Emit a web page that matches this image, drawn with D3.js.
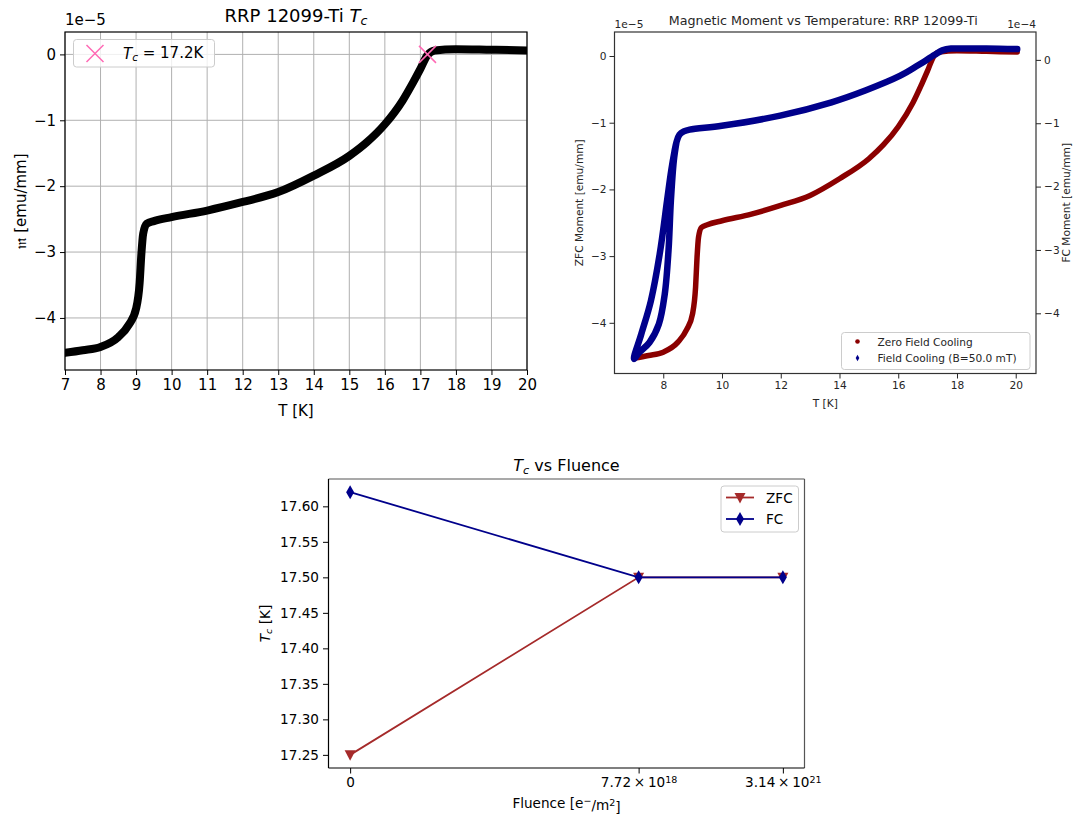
<!DOCTYPE html>
<html>
<head>
<meta charset="utf-8">
<script src="https://d3js.org/d3.v7.min.js"></script>
<style>
body { margin: 0; background: #fff; }
text { font-family: "DejaVu Sans", sans-serif; }
</style>
</head>
<body>
<div id="chart"></div>
<script>
var svgWidth = 1077;
var svgHeight = 818;

// ZFC sweep, moment in units of 1e-5 emu/mm
var zfcTemp = [7.0, 7.5, 8.0, 8.5, 8.8, 9.0, 9.1, 9.15, 9.2, 9.3, 9.5, 10.0, 11.0, 12.0, 13.0, 14.0, 15.0, 15.5, 16.0, 16.5, 16.8, 17.0, 17.2, 17.4, 18.0, 19.0, 20.05];
var zfcMoment = [-4.53, -4.49, -4.44, -4.29, -4.1, -3.86, -3.47, -3.02, -2.72, -2.57, -2.53, -2.47, -2.37, -2.24, -2.09, -1.84, -1.54, -1.33, -1.06, -0.70, -0.42, -0.22, -0.01, 0.06, 0.08, 0.07, 0.06];

// FC sweep, moment in units of 1e-4 emu/mm (plateau, then the two low-T branches)
var fcTemp = [20.05, 19.0, 18.0, 17.8, 17.5, 17.24, 16.66, 16.07, 14.9, 13.73, 11.98, 9.99, 8.9, 8.7, 8.55, 8.45, 8.38, 8.27, 8.13, 7.88, 7.58, 7.25, 7.0, 7.18, 7.53, 7.85, 8.05, 8.18, 8.26, 8.36, 8.45];
var fcMoment = [0.17, 0.18, 0.18, 0.18, 0.15, 0.08, -0.09, -0.25, -0.48, -0.67, -0.88, -1.04, -1.1, -1.13, -1.18, -1.3, -1.45, -1.75, -2.22, -3.06, -3.8, -4.33, -4.72, -4.62, -4.46, -4.17, -3.7, -3.0, -2.22, -1.59, -1.3];

var tcPoint = [17.2, 0];

// Tc vs fluence
var fluencePos = [0, 2, 3];
var fluenceMantissa = ["0", "7.72", "3.14"];
var fluenceExponent = ["", "18", "21"];
var tcZfc = [17.25, 17.50, 17.50];
var tcFc = [17.62, 17.50, 17.50];

var svg = d3.select("#chart")
  .append("svg")
  .attr("width", svgWidth)
  .attr("height", svgHeight);

// helper: "T_c" style text, italic T with subscript c
function addTc(sel, after) {
  sel.append("tspan").attr("font-style", "italic").text("T");
  sel.append("tspan").attr("font-style", "italic").attr("font-size", "0.7em").attr("dy", "0.25em").text("c");
  if (after) sel.append("tspan").attr("dy", "-0.18em").text(after);
}

function styleAxis(axisG, size, color) {
  axisG.select(".domain").remove();
  axisG.selectAll("text")
    .attr("font-size", size)
    .attr("font-family", "DejaVu Sans")
    .attr("fill", color);
  axisG.selectAll("line").attr("stroke", color).attr("stroke-width", 1);
}

// ---------- Panel 1: RRP 12099-Ti Tc ----------
var p1 = {left: 65, top: 32, width: 462, height: 338};
var g1 = svg.append("g").attr("transform", `translate(${p1.left}, ${p1.top})`);

var x1 = d3.scaleLinear().domain([7, 20]).range([0, p1.width]);
var y1 = d3.scaleLinear().domain([-4.79, 0.34]).range([p1.height, 0]);

var xTicks1 = d3.range(7, 21);
var yTicks1 = [0, -1, -2, -3, -4];

g1.append("g").selectAll("line")
  .data(xTicks1)
  .enter()
  .append("line")
  .attr("x1", d => x1(d)).attr("x2", d => x1(d))
  .attr("y1", 0).attr("y2", p1.height)
  .attr("stroke", "#b0b0b0").attr("stroke-width", 1);

g1.append("g").selectAll("line")
  .data(yTicks1)
  .enter()
  .append("line")
  .attr("y1", d => y1(d)).attr("y2", d => y1(d))
  .attr("x1", 0).attr("x2", p1.width)
  .attr("stroke", "#b0b0b0").attr("stroke-width", 1);

svg.append("clipPath").attr("id", "clip1")
  .append("rect").attr("width", p1.width).attr("height", p1.height);

var zfcData = zfcTemp.map((t, i) => [t, zfcMoment[i]]);

var line1 = d3.line()
  .x(d => x1(d[0]))
  .y(d => y1(d[1]))
  .curve(d3.curveMonotoneX);

g1.append("path")
  .datum(zfcData)
  .attr("clip-path", "url(#clip1)")
  .attr("d", line1)
  .attr("fill", "none")
  .attr("stroke", "black")
  .attr("stroke-width", 8)
  .attr("stroke-linejoin", "round")
  .attr("stroke-linecap", "round");

var xMark = "M-8.5,-8.5L8.5,8.5M-8.5,8.5L8.5,-8.5";
g1.append("path")
  .attr("d", xMark)
  .attr("transform", `translate(${x1(tcPoint[0])}, ${y1(tcPoint[1])})`)
  .attr("stroke", "#ff69b4").attr("stroke-width", 1.5).attr("fill", "none");

g1.append("rect")
  .attr("width", p1.width).attr("height", p1.height)
  .attr("fill", "none").attr("stroke", "black").attr("stroke-width", 1.2);

var xAxis1 = g1.append("g")
  .attr("transform", `translate(0, ${p1.height})`)
  .call(d3.axisBottom(x1).tickValues(xTicks1).tickSize(5).tickPadding(4));
styleAxis(xAxis1, 15, "black");

var yAxis1 = g1.append("g")
  .call(d3.axisLeft(y1).tickValues(yTicks1).tickFormat(d3.format("d")).tickSize(5).tickPadding(4));
styleAxis(yAxis1, 15, "black");

svg.append("text").attr("x", p1.left).attr("y", 25).attr("font-size", 15).text("1e\u22125");

var title1 = svg.append("text")
  .attr("x", p1.left + p1.width / 2).attr("y", 22)
  .attr("text-anchor", "middle").attr("font-size", 18);
title1.append("tspan").text("RRP 12099-Ti ");
addTc(title1);

svg.append("text")
  .attr("x", p1.left + p1.width / 2).attr("y", 416)
  .attr("text-anchor", "middle").attr("font-size", 15)
  .text("T [K]");

svg.append("text")
  .attr("transform", `translate(26, ${p1.top + p1.height / 2}) rotate(-90)`)
  .attr("text-anchor", "middle").attr("font-size", 15)
  .text("\ud835\udd2a [emu/mm]");

// legend
var leg1 = svg.append("g");
leg1.append("rect")
  .attr("x", 73.5).attr("y", 39.5).attr("width", 141).attr("height", 27.5).attr("rx", 3)
  .attr("fill", "white").attr("fill-opacity", 0.8).attr("stroke", "#cccccc");
leg1.append("path").attr("d", xMark)
  .attr("transform", "translate(95, 53.5)")
  .attr("stroke", "#ff69b4").attr("stroke-width", 1.5).attr("fill", "none");
var legText1 = leg1.append("text").attr("x", 123).attr("y", 58.5).attr("font-size", 15);
addTc(legText1, " = 17.2K");

// ---------- Panel 2: ZFC / FC moment ----------
var p2 = {left: 614.5, top: 32, width: 421.5, height: 341.5};
var g2 = svg.append("g").attr("transform", `translate(${p2.left}, ${p2.top})`);

var x2 = d3.scaleLinear().domain([6.34, 20.69]).range([0, p2.width]);
var y2z = d3.scaleLinear().domain([-4.76, 0.36]).range([p2.height, 0]);
var y2f = d3.scaleLinear().domain([-4.95, 0.44]).range([p2.height, 0]);

var fcData = fcTemp.map((t, i) => [t, fcMoment[i]]);

g2.append("path")
  .datum(zfcData)
  .attr("d", d3.line().x(d => x2(d[0])).y(d => y2z(d[1])).curve(d3.curveMonotoneX))
  .attr("fill", "none")
  .attr("stroke", "#8b0000")
  .attr("stroke-width", 5.5)
  .attr("stroke-linejoin", "round")
  .attr("stroke-linecap", "round");

g2.append("path")
  .datum(fcData)
  .attr("d", d3.line().x(d => x2(d[0])).y(d => y2f(d[1])).curve(d3.curveCatmullRom))
  .attr("fill", "none")
  .attr("stroke", "#00008b")
  .attr("stroke-width", 6.5)
  .attr("stroke-linejoin", "round")
  .attr("stroke-linecap", "round");

g2.append("rect")
  .attr("width", p2.width).attr("height", p2.height)
  .attr("fill", "none").attr("stroke", "#333").attr("stroke-width", 1.2);

var xAxis2 = g2.append("g")
  .attr("transform", `translate(0, ${p2.height})`)
  .call(d3.axisBottom(x2).tickValues([8, 10, 12, 14, 16, 18, 20]).tickSize(5).tickPadding(3));
styleAxis(xAxis2, 10.6, "#262626");

var yAxis2 = g2.append("g")
  .call(d3.axisLeft(y2z).tickValues([0, -1, -2, -3, -4]).tickFormat(d3.format("d")).tickSize(5).tickPadding(3));
styleAxis(yAxis2, 10.6, "#262626");

var yAxis2r = g2.append("g")
  .attr("transform", `translate(${p2.width}, 0)`)
  .call(d3.axisRight(y2f).tickValues([0, -1, -2, -3, -4]).tickFormat(d3.format("d")).tickSize(5).tickPadding(3));
styleAxis(yAxis2r, 10.6, "#262626");

svg.append("text").attr("x", p2.left).attr("y", 28).attr("font-size", 10.6).attr("fill", "#262626").text("1e\u22125");
svg.append("text").attr("x", p2.left + p2.width).attr("y", 28).attr("text-anchor", "end")
  .attr("font-size", 10.6).attr("fill", "#262626").text("1e\u22124");

svg.append("text")
  .attr("x", p2.left + p2.width / 2 - 2).attr("y", 25)
  .attr("text-anchor", "middle").attr("font-size", 12.7).attr("fill", "#262626")
  .text("Magnetic Moment vs Temperature: RRP 12099-Ti");

svg.append("text")
  .attr("x", p2.left + p2.width / 2).attr("y", 407)
  .attr("text-anchor", "middle").attr("font-size", 10.6).attr("fill", "#262626")
  .text("T [K]");

svg.append("text")
  .attr("transform", `translate(583, ${p2.top + p2.height / 2}) rotate(-90)`)
  .attr("text-anchor", "middle").attr("font-size", 10.6).attr("fill", "#262626")
  .text("ZFC Moment [emu/mm]");

svg.append("text")
  .attr("transform", `translate(1070, ${p2.top + p2.height / 2}) rotate(-90)`)
  .attr("text-anchor", "middle").attr("font-size", 10.6).attr("fill", "#262626")
  .text("FC Moment [emu/mm]");

// legend
var leg2 = svg.append("g");
leg2.append("rect")
  .attr("x", 841.5).attr("y", 332.5).attr("width", 188.5).attr("height", 37).attr("rx", 3)
  .attr("fill", "white").attr("fill-opacity", 0.8).attr("stroke", "#cccccc");
leg2.append("circle").attr("cx", 857.5).attr("cy", 341.5).attr("r", 2.3).attr("fill", "#8b0000");
leg2.append("path").attr("d", "M0,-3.2L1.8,0L0,3.2L-1.8,0Z")
  .attr("transform", "translate(857.5, 358)").attr("fill", "#00008b");
leg2.append("text").attr("x", 877.5).attr("y", 345.5).attr("font-size", 10.6).attr("fill", "#262626").text("Zero Field Cooling");
leg2.append("text").attr("x", 877.5).attr("y", 362).attr("font-size", 10.6).attr("fill", "#262626").text("Field Cooling (B=50.0 mT)");

// ---------- Panel 3: Tc vs Fluence ----------
var p3 = {left: 328.5, top: 479, width: 476, height: 289};
var g3 = svg.append("g").attr("transform", `translate(${p3.left}, ${p3.top})`);

var x3 = d3.scaleLinear().domain([-0.15, 3.15]).range([0, p3.width]);
var y3 = d3.scaleLinear().domain([17.2315, 17.6385]).range([p3.height, 0]);

var triDown = "M-5.5,-4.5L5.5,-4.5L0,6Z";
var thinDiamond = "M0,-7L4,0L0,7L-4,0Z";

var series3 = [
  {name: "ZFC", values: tcZfc, color: "#a52a2a", marker: triDown},
  {name: "FC", values: tcFc, color: "#00008b", marker: thinDiamond}
];

var line3 = d3.line()
  .x((d, i) => x3(fluencePos[i]))
  .y(d => y3(d));

series3.forEach(function(s) {
  g3.append("path")
    .datum(s.values)
    .attr("d", line3)
    .attr("fill", "none")
    .attr("stroke", s.color)
    .attr("stroke-width", 1.8);

  g3.selectAll(".mk-" + s.name)
    .data(s.values)
    .enter()
    .append("path")
    .attr("class", "mk-" + s.name)
    .attr("d", s.marker)
    .attr("transform", (d, i) => `translate(${x3(fluencePos[i])}, ${y3(d)})`)
    .attr("fill", s.color);
});

g3.append("line").attr("x1", 0).attr("x2", p3.width).attr("y1", 0).attr("y2", 0).attr("stroke", "#555").attr("stroke-width", 1.2);
g3.append("line").attr("x1", p3.width).attr("x2", p3.width).attr("y1", 0).attr("y2", p3.height).attr("stroke", "#555").attr("stroke-width", 1.2);
g3.append("line").attr("x1", 0).attr("x2", 0).attr("y1", 0).attr("y2", p3.height).attr("stroke", "black").attr("stroke-width", 1.2);
g3.append("line").attr("x1", 0).attr("x2", p3.width).attr("y1", p3.height).attr("y2", p3.height).attr("stroke", "black").attr("stroke-width", 1.2);

var xAxis3 = g3.append("g")
  .attr("transform", `translate(0, ${p3.height})`)
  .call(d3.axisBottom(x3).tickValues(fluencePos).tickSize(5.5).tickPadding(4));
styleAxis(xAxis3, 13.6, "black");
xAxis3.selectAll(".tick text").each(function(d, i) {
  var t = d3.select(this);
  if (fluenceExponent[i]) {
    t.text(fluenceMantissa[i] + "\u2009\u00d7\u200910");
    t.append("tspan").attr("dy", "-0.45em").attr("font-size", "0.7em").text(fluenceExponent[i]);
  } else {
    t.text(fluenceMantissa[i]);
  }
});

var yAxis3 = g3.append("g")
  .call(d3.axisLeft(y3).tickValues([17.25, 17.30, 17.35, 17.40, 17.45, 17.50, 17.55, 17.60]).tickFormat(d3.format(".2f")).tickSize(5.5).tickPadding(4));
styleAxis(yAxis3, 13.6, "black");

var title3 = svg.append("text")
  .attr("x", p3.left + p3.width / 2).attr("y", 471)
  .attr("text-anchor", "middle").attr("font-size", 16);
addTc(title3, " vs Fluence");

var xLabel3 = svg.append("text")
  .attr("x", p3.left + p3.width / 2).attr("y", 808)
  .attr("text-anchor", "middle").attr("font-size", 13.6);
xLabel3.append("tspan").text("Fluence [e");
xLabel3.append("tspan").attr("dy", "-0.45em").attr("font-size", "0.7em").text("\u2212");
xLabel3.append("tspan").attr("dy", "0.45em").text("/m");
xLabel3.append("tspan").attr("dy", "-0.45em").attr("font-size", "0.7em").text("2");
xLabel3.append("tspan").attr("dy", "0.45em").text("]");

var yLabel3 = svg.append("text")
  .attr("transform", `translate(270, ${p3.top + p3.height / 2}) rotate(-90)`)
  .attr("text-anchor", "middle").attr("font-size", 13.6);
addTc(yLabel3, " [K]");

// legend
var leg3 = svg.append("g");
leg3.append("rect")
  .attr("x", 721).attr("y", 486).attr("width", 77.5).attr("height", 46).attr("rx", 3)
  .attr("fill", "white").attr("fill-opacity", 0.8).attr("stroke", "#cccccc");
series3.forEach(function(s, i) {
  var yy = 497.5 + i * 21.5;
  leg3.append("line").attr("x1", 726).attr("x2", 754).attr("y1", yy).attr("y2", yy)
    .attr("stroke", s.color).attr("stroke-width", 1.8);
  leg3.append("path").attr("d", s.marker).attr("transform", `translate(740, ${yy})`).attr("fill", s.color);
  leg3.append("text").attr("x", 766).attr("y", yy + 5).attr("font-size", 13.6).text(s.name);
});
</script>
</body>
</html>
